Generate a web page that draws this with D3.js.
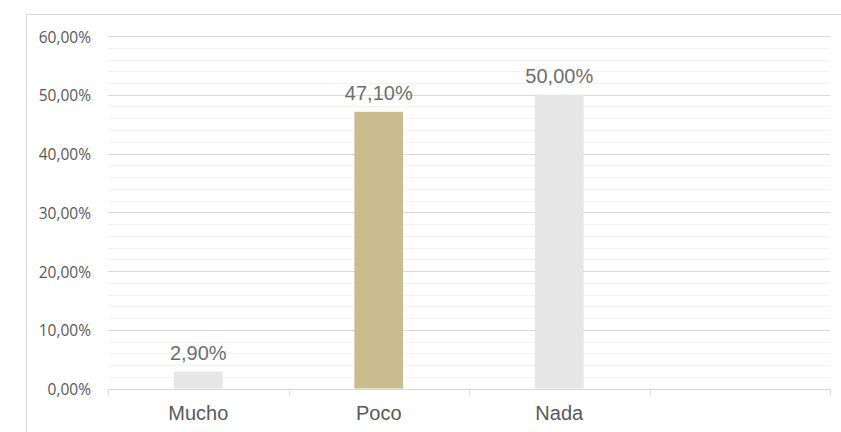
<!DOCTYPE html>
<html><head><meta charset="utf-8">
<script src="https://cdn.jsdelivr.net/npm/d3@7"></script>
<style>body{margin:0;background:#fff}svg{display:block}</style>
</head><body>
<svg id="c" width="841" height="432"></svg>
<script>
const categories = ["Mucho", "Poco", "Nada", ""];
const values = [2.9, 47.1, 50.0, null];
const barColors = ["#e6e6e6", "#c9bc8e", "#e6e6e6", "#e6e6e6"];
const yMajorTicks = [0, 10, 20, 30, 40, 50, 60];
const yMinorTicks = d3.range(0, 60.01, 2);

const svg = d3.select("#c");
const W = 841, H = 432;
const m = {left: 108, right: 11, top: 36, bottom: 43.5};
const x0 = m.left, x1 = W - m.right, y0 = H - m.bottom, y1 = m.top;

// chart border
svg.append("rect").attr("x", 26.5).attr("y", 14.5).attr("width", 900).attr("height", 600)
  .attr("fill", "none").attr("stroke", "#d9d9d9").attr("stroke-width", 1);

const x = d3.scaleBand().domain(categories.map((d, i) => i)).range([x0, x1])
  .paddingInner(0.73).paddingOuter(0.365);
const y = d3.scaleLinear().domain([0, 60]).range([y0, y1]);
const fmt = v => d3.format(".2f")(v).replace(".", ",") + "%";

// minor gridlines
svg.append("g").selectAll("line").data(yMinorTicks.filter(t => t % 10 !== 0)).join("line")
  .attr("x1", x0).attr("x2", x1)
  .attr("y1", d => Math.round(y(d)) + 0.5).attr("y2", d => Math.round(y(d)) + 0.5)
  .attr("stroke", "#f2f2f2").attr("stroke-width", 1);

// major gridlines
svg.append("g").selectAll("line").data(yMajorTicks.filter(t => t > 0)).join("line")
  .attr("x1", x0).attr("x2", x1)
  .attr("y1", d => Math.round(y(d)) + 0.5).attr("y2", d => Math.round(y(d)) + 0.5)
  .attr("stroke", "#d9d9d9").attr("stroke-width", 1);

// y axis labels
const yAxis = d3.axisLeft(y).tickValues(yMajorTicks).tickFormat(fmt).tickSize(0).tickPadding(17);
const gy = svg.append("g").attr("transform", `translate(${x0},0)`).call(yAxis);
gy.select(".domain").remove();
gy.selectAll("text").attr("font-family", "'Open Sans', sans-serif").attr("font-size", "15.5px")
  .attr("dy", "0.4em").attr("fill", "#595959");

// bars
svg.append("g").selectAll("rect").data(values.map((v, i) => ({v, i}))).join("rect")
  .filter(d => d.v != null)
  .attr("x", d => x(d.i)).attr("width", x.bandwidth())
  .attr("y", d => y(d.v)).attr("height", d => y0 - y(d.v))
  .attr("fill", d => barColors[d.i]);

// x axis baseline & ticks
const step = x.step();
const gx = svg.append("g");
gx.append("line").attr("x1", x0).attr("x2", x1)
  .attr("y1", Math.round(y0) + 0.5).attr("y2", Math.round(y0) + 0.5)
  .attr("stroke", "#d9d9d9").attr("stroke-width", 1);
gx.selectAll(".tk").data(d3.range(categories.length + 1)).join("line").attr("class", "tk")
  .attr("x1", i => Math.round(x0 + i * step) + 0.5).attr("x2", i => Math.round(x0 + i * step) + 0.5)
  .attr("y1", Math.round(y0)).attr("y2", Math.round(y0) + 6.5)
  .attr("stroke", "#d9d9d9").attr("stroke-width", 1);

// category labels
svg.append("g").selectAll("text").data(categories).join("text")
  .attr("x", (d, i) => x(i) + x.bandwidth() / 2).attr("y", 420)
  .attr("text-anchor", "middle")
  .attr("font-family", "'Liberation Sans', Arial, sans-serif").attr("font-size", "20px")
  .attr("fill", "#595959").text(d => d);

// data labels
svg.append("g").selectAll("text").data(values.map((v, i) => ({v, i})).filter(d => d.v != null)).join("text")
  .attr("x", d => x(d.i) + x.bandwidth() / 2).attr("y", d => y(d.v) - 11.5)
  .attr("text-anchor", "middle")
  .attr("font-family", "'Liberation Sans', Arial, sans-serif").attr("font-size", "20px")
  .attr("fill", "#6e6e6e").text(d => fmt(d.v));
</script>
</body></html>
